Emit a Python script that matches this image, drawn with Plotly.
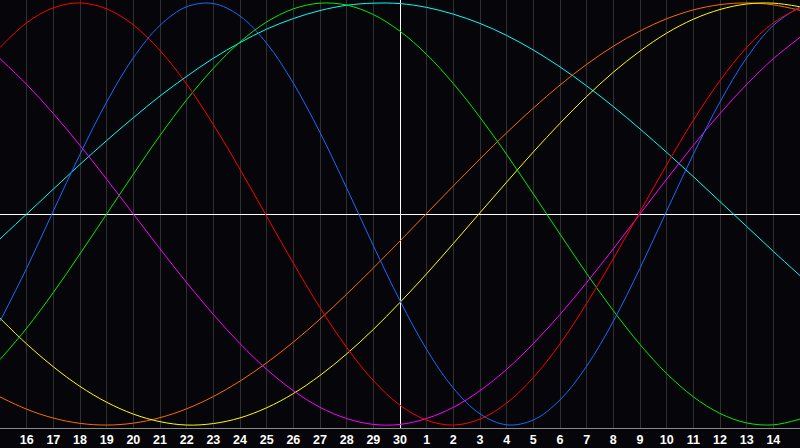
import plotly.graph_objects as go

# Day offsets relative to the centre day (30th); chart spans 15th .. 15th
day_offsets = list(range(-15, 16))
tick_offsets = list(range(-14, 15))
tick_labels = ["16", "17", "18", "19", "20", "21", "22", "23", "24", "25", "26", "27", "28", "29", "30",
               "1", "2", "3", "4", "5", "6", "7", "8", "9", "10", "11", "12", "13", "14"]

red_vals = [0.789, 0.906, 0.977, 1.000, 0.972, 0.896, 0.775, 0.615, 0.424, 0.212, -0.011, -0.233, -0.444,
            -0.632, -0.789, -0.906, -0.977, -1.000, -0.972, -0.896, -0.775, -0.615, -0.424, -0.212, 0.011,
            0.233, 0.444, 0.632, 0.789, 0.906, 0.977]
blue_vals = [-0.508, -0.257, 0.014, 0.283, 0.531, 0.740, 0.894, 0.982, 0.997, 0.938, 0.809, 0.620, 0.386,
             0.123, -0.150, -0.411, -0.642, -0.825, -0.947, -0.999, -0.976, -0.881, -0.721, -0.508, -0.257,
             0.014, 0.283, 0.531, 0.740, 0.894, 0.982]
green_vals = [-0.690, -0.541, -0.372, -0.189, 0.000, 0.189, 0.372, 0.541, 0.690, 0.815, 0.910, 0.972, 0.999,
              0.990, 0.945, 0.866, 0.756, 0.618, 0.458, 0.282, 0.095, -0.095, -0.282, -0.458, -0.618, -0.756,
              -0.866, -0.945, -0.990, -0.999, -0.972]
magenta_vals = [0.736, 0.614, 0.476, 0.325, 0.165, 0.000, -0.165, -0.325, -0.476, -0.614, -0.736, -0.837,
                -0.916, -0.969, -0.997, -0.997, -0.969, -0.916, -0.837, -0.736, -0.614, -0.476, -0.325,
                -0.165, 0.000, 0.165, 0.325, 0.476, 0.614, 0.736, 0.837]
cyan_vals = [-0.118, 0.000, 0.118, 0.235, 0.348, 0.456, 0.559, 0.652, 0.738, 0.812, 0.876, 0.926, 0.964,
             0.989, 0.999, 0.997, 0.979, 0.947, 0.903, 0.846, 0.777, 0.697, 0.607, 0.509, 0.403, 0.292,
             0.177, 0.059, -0.059, -0.177, -0.292]
orange_vals = [-0.867, -0.925, -0.967, -0.992, -1.000, -0.991, -0.965, -0.923, -0.865, -0.792, -0.705,
               -0.607, -0.498, -0.380, -0.256, -0.128, 0.003, 0.133, 0.261, 0.385, 0.502, 0.611, 0.709,
               0.795, 0.867, 0.925, 0.967, 0.992, 1.000, 0.991, 0.965]
yellow_vals = [-0.494, -0.616, -0.724, -0.817, -0.892, -0.948, -0.984, -1.000, -0.993, -0.966, -0.918,
               -0.851, -0.765, -0.663, -0.547, -0.419, -0.283, -0.140, 0.006, 0.151, 0.294, 0.430, 0.557,
               0.672, 0.772, 0.857, 0.923, 0.969, 0.995, 0.999, 0.982]

series = [
    ("cyan", cyan_vals, "#00ffff"),
    ("orange", orange_vals, "#ff6a00"),
    ("yellow", yellow_vals, "#ffff00"),
    ("green", green_vals, "#00ee00"),
    ("magenta", magenta_vals, "#ff00ff"),
    ("blue", blue_vals, "#1a6aff"),
    ("red", red_vals, "#ff0000"),
]

fig = go.Figure()
for name, vals, color in series:
    fig.add_trace(go.Scatter(
        x=day_offsets, y=vals, mode="lines", name=name,
        line=dict(color=color, width=1, shape="spline", smoothing=1.0),
        hoverinfo="skip",
    ))

bg = "#060509"
fig.update_layout(
    width=800, height=448,
    margin=dict(l=0, r=0, t=0, b=20),
    paper_bgcolor=bg, plot_bgcolor=bg,
    showlegend=False,
)
fig.update_xaxes(
    range=[-15, 15], tickvals=tick_offsets, ticktext=tick_labels,
    showgrid=True, gridcolor="#303030", gridwidth=1,
    zeroline=True, zerolinecolor="#ffffff", zerolinewidth=1,
    showline=True, linecolor="#8a8a8a", linewidth=1, mirror=True,
    ticks="", tickfont=dict(family="Liberation Sans", size=12.5, color="#ffffff", weight="bold"),
    fixedrange=True,
)
fig.update_yaxes(
    range=[-1.014, 1.014], showticklabels=False, showgrid=False,
    zeroline=True, zerolinecolor="#ffffff", zerolinewidth=1,
    showline=True, linecolor="#8a8a8a", linewidth=1, mirror=True,
    fixedrange=True,
)

fig.write_html(
    "out.html",
    config={"displayModeBar": False},
    post_script="document.body.style.margin='0';document.body.style.padding='0';"
                "document.body.style.background='#060509';document.body.style.overflow='hidden';",
)
